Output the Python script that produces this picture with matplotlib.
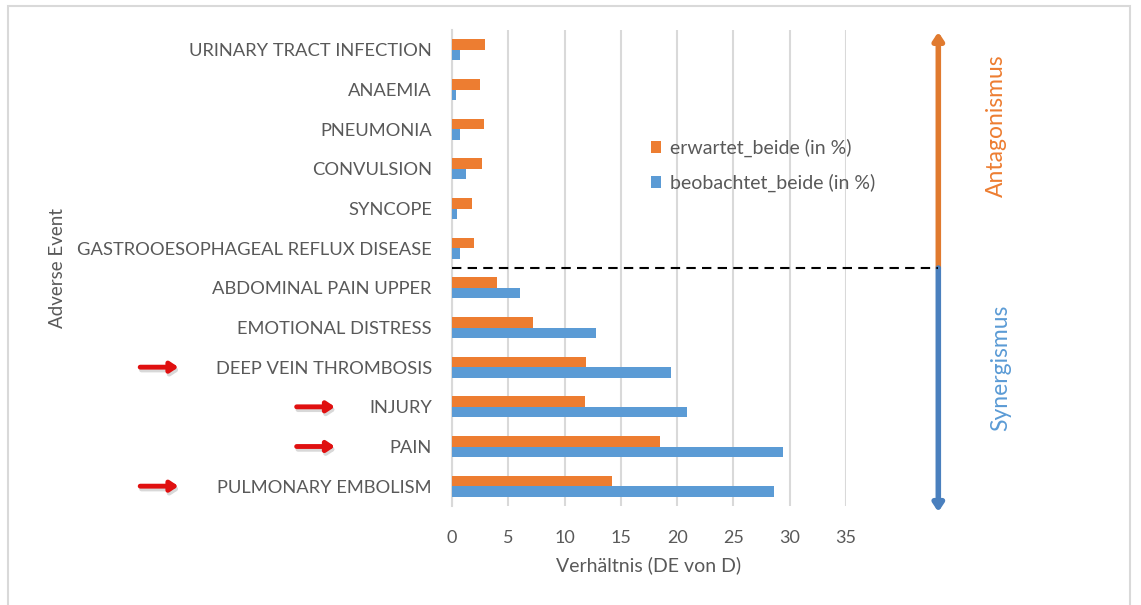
import numpy as np
import matplotlib
matplotlib.use("Agg")
import matplotlib.pyplot as plt
from matplotlib.patches import Rectangle

plt.rcParams["font.family"] = ["Lato", "DejaVu Sans"]

# data
events = ["URINARY TRACT INFECTION", "ANAEMIA", "PNEUMONIA", "CONVULSION", "SYNCOPE",
          "GASTROOESOPHAGEAL REFLUX DISEASE", "ABDOMINAL PAIN UPPER", "EMOTIONAL DISTRESS",
          "DEEP VEIN THROMBOSIS", "INJURY", "PAIN", "PULMONARY EMBOLISM"]
erwartet = [2.9, 2.5, 2.8, 2.65, 1.8, 1.95, 4.0, 7.2, 11.9, 11.85, 18.5, 14.2]
beobachtet = [0.7, 0.35, 0.7, 1.2, 0.45, 0.7, 6.05, 12.75, 19.45, 20.9, 29.4, 28.6]
markiert = ["DEEP VEIN THROMBOSIS", "INJURY", "PAIN", "PULMONARY EMBOLISM"]
xticks = [0, 5, 10, 15, 20, 25, 30, 35]

orange = "#ED7D31"
blau = "#5B9BD5"
grau = "#595959"

fig = plt.figure(figsize=(11.41, 6.05), dpi=100)
ax = fig.add_axes([452 / 1141, 1 - 506 / 605, 394 / 1141, 476 / 605])

y = np.arange(len(events))
h = 0.265
ax.barh(y - h / 2, erwartet, height=h, color=orange, label="erwartet_beide (in %)", zorder=3)
ax.barh(y + h / 2, beobachtet, height=h, color=blau, label="beobachtet_beide (in %)", zorder=3)

ax.set_xlim(0, 35)
ax.set_ylim(len(events) - 0.5, -0.5)
ax.set_xticks(xticks)
ax.set_yticks(y)
ax.set_yticklabels(events)
ax.tick_params(axis="both", length=0, colors=grau)
ax.tick_params(axis="y", pad=14.5, labelsize=13.2)
ax.tick_params(axis="x", pad=17, labelsize=13)
ax.grid(axis="x", color="#D9D9D9", linewidth=1.5, zorder=0)
for s in ["top", "right", "bottom"]:
    ax.spines[s].set_visible(False)
ax.spines["left"].set_color("#D9D9D9")
ax.spines["left"].set_linewidth(1.5)
ax.set_xlabel("Verhältnis (DE von D)", fontsize=14, color=grau, labelpad=8)
ax.set_ylabel("Adverse Event", fontsize=13.5, color=grau)
ax.yaxis.set_label_coords(-0.98, 0.5)

leg = ax.legend(loc="center left", bbox_to_anchor=(0.46, 0.715), frameon=False,
                fontsize=14, handlelength=0.55, handleheight=0.55, labelspacing=0.85,
                handletextpad=0.45)
for t in leg.get_texts():
    t.set_color(grau)

# Trennlinie Antagonismus / Synergismus
x_pfeil = 43.2
grenze = 5.5
ax.plot([0, x_pfeil], [grenze, grenze], color="black", linestyle=(0, (4.5, 3)),
        linewidth=1.5, clip_on=False, zorder=4)

# senkrechte Pfeile
ax.annotate("", xy=(x_pfeil, -0.45), xytext=(x_pfeil, grenze), annotation_clip=False,
            arrowprops=dict(arrowstyle="-|>,head_width=0.3,head_length=0.45", lw=4,
                            color="#E07A2F", shrinkA=0, shrinkB=0))
ax.annotate("", xy=(x_pfeil, 11.65), xytext=(x_pfeil, grenze), annotation_clip=False,
            arrowprops=dict(arrowstyle="-|>,head_width=0.3,head_length=0.45", lw=4,
                            color="#4A80BE", shrinkA=0, shrinkB=0))
ax.text(48.4, 1.92, "Antagonismus", rotation=90, color=orange, fontsize=16.5,
        ha="center", va="center", clip_on=False)
ax.text(48.7, 8.02, "Synergismus", rotation=90, color=blau, fontsize=16.5,
        ha="center", va="center", clip_on=False)

# rote Markierungspfeile
for name in markiert:
    i = events.index(name)
    if len(name) > 12:
        x0, x1 = -27.7, -24.3
    else:
        x0, x1 = -13.8, -10.4
    ax.annotate("", xy=(x1 + 0.12, i + 0.07), xytext=(x0 + 0.12, i + 0.07),
                annotation_clip=False,
                arrowprops=dict(arrowstyle="-|>,head_width=0.3,head_length=0.45", lw=3.5,
                                color="#D8D8D8", shrinkA=0, shrinkB=0))
    ax.annotate("", xy=(x1, i), xytext=(x0, i), annotation_clip=False,
                arrowprops=dict(arrowstyle="-|>,head_width=0.3,head_length=0.45", lw=3.5,
                                color="#E01010", shrinkA=0, shrinkB=0))

# Rahmen
fig.patches.append(Rectangle((8 / 1141, -0.1), 1122 / 1141, 1.1 - 6 / 605, transform=fig.transFigure,
                             fill=False, edgecolor="#D9D9D9", linewidth=1.5))

fig.savefig("out.png", dpi=100)
